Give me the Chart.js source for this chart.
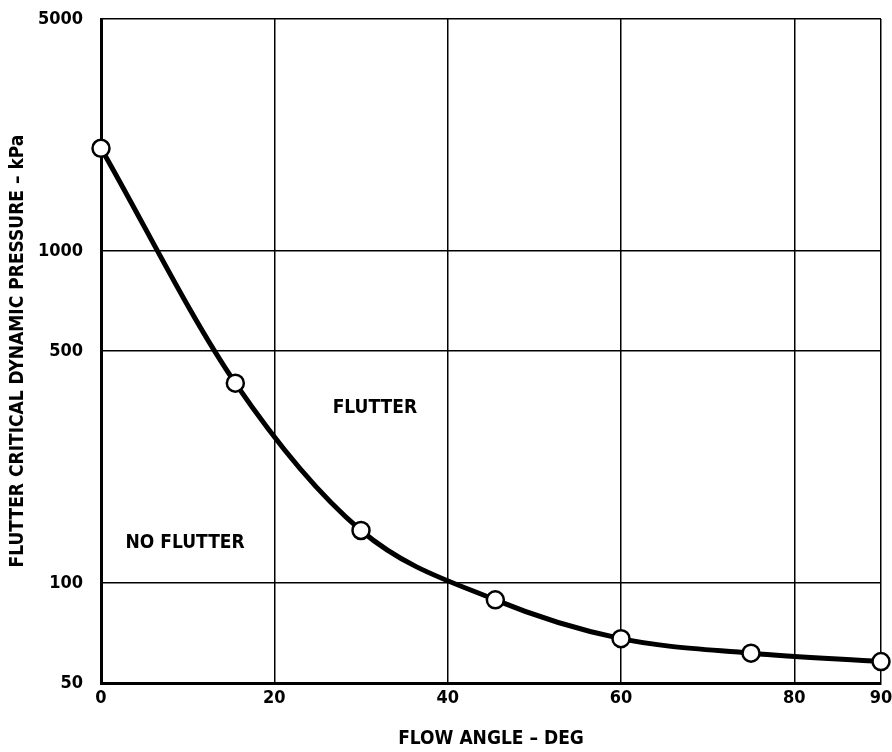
<!DOCTYPE html>
<html>
<head>
<meta charset="utf-8">
<script src="https://cdn.jsdelivr.net/npm/chart.js@4/dist/chart.umd.min.js"></script>
<style>
  html, body { margin: 0; padding: 0; background: #fff; }
  #wrap { width: 892px; height: 752px; }
</style>
</head>
<body>
<div id="wrap"><canvas id="grafico" width="892" height="752"></canvas></div>
<script>
// Ângulo do escoamento (graus) e pressão dinâmica crítica de flutter (kPa)
const angulos = [0, 15.5, 30, 45.5, 60, 75, 90];
const pressoes = [2040, 400, 144, 89, 68, 61.5, 58];

// Marcas dos eixos
const ticksX = [0, 20, 40, 60, 80, 90];
const ticksY = [50, 100, 500, 1000, 5000];

// Rótulos das regiões (posição em coordenadas de dados)
const regioes = [
    { texto: 'FLUTTER', x: 31.6, y: 337 },
    { texto: 'NO FLUTTER', x: 9.7, y: 132 }
];

const FONTE = '"Liberation Sans Narrow", "DejaVu Sans Condensed", "Arial Narrow", sans-serif';

// Plugin simples para escrever os nomes das regiões dentro do gráfico
const pluginRegioes = {
    id: 'regioes',
    afterDatasetsDraw(chart) {
        const { ctx, scales } = chart;
        ctx.save();
        ctx.fillStyle = '#000';
        ctx.font = 'bold 19px ' + FONTE;
        ctx.textAlign = 'center';
        ctx.textBaseline = 'middle';
        regioes.forEach(r => {
            ctx.fillText(r.texto, scales.x.getPixelForValue(r.x), scales.y.getPixelForValue(r.y));
        });
        ctx.restore();
    }
};

const ctx = document.getElementById('grafico').getContext('2d');
new Chart(ctx, {
    type: 'line',
    data: {
        datasets: [{
            data: angulos.map((a, i) => ({ x: a, y: pressoes[i] })),
            borderColor: '#000',
            borderWidth: 5,
            cubicInterpolationMode: 'monotone',
            pointRadius: 8.5,
            pointBorderWidth: 2.5,
            pointBackgroundColor: '#fff',
            pointBorderColor: '#000',
            clip: false
        }]
    },
    options: {
        responsive: false,
        animation: false,
        layout: { padding: { left: 0, top: 19, right: 10, bottom: 0 } },
        plugins: {
            legend: { display: false },
            tooltip: { enabled: false }
        },
        scales: {
            x: {
                type: 'linear',
                min: 0,
                max: 90,
                afterBuildTicks: (s) => { s.ticks = ticksX.map(v => ({ value: v })); },
                // altura fixa e sem folga lateral extra por causa dos rótulos
                afterFit: (s) => { s.height = 69; s.paddingLeft = 0; s.paddingRight = 0; },
                grid: { color: '#000', lineWidth: 1.5, drawTicks: false },
                border: { color: '#000', width: 3 },
                ticks: {
                    color: '#000',
                    padding: 5,
                    maxRotation: 0,
                    font: { family: FONTE, size: 18, weight: 'bold' }
                },
                title: {
                    display: true,
                    text: 'FLOW ANGLE – DEG',
                    color: '#000',
                    padding: { top: 0, bottom: 2 },
                    font: { family: FONTE, size: 19, weight: 'bold' }
                }
            },
            y: {
                type: 'logarithmic',
                min: 50,
                max: 5000,
                afterBuildTicks: (s) => { s.ticks = ticksY.map(v => ({ value: v })); },
                afterFit: (s) => { s.width = 101; s.paddingTop = 0; s.paddingBottom = 0; },
                grid: { color: '#000', lineWidth: 1.5, drawTicks: false },
                border: { color: '#000', width: 3 },
                ticks: {
                    color: '#000',
                    padding: 18,
                    callback: (v) => String(v),
                    font: { family: FONTE, size: 18, weight: 'bold' }
                },
                title: {
                    display: true,
                    text: 'FLUTTER CRITICAL DYNAMIC PRESSURE – kPa',
                    color: '#000',
                    padding: { top: 7, bottom: 0 },
                    font: { family: FONTE, size: 19, weight: 'bold' }
                }
            }
        }
    },
    plugins: [pluginRegioes]
});
</script>
</body>
</html>
